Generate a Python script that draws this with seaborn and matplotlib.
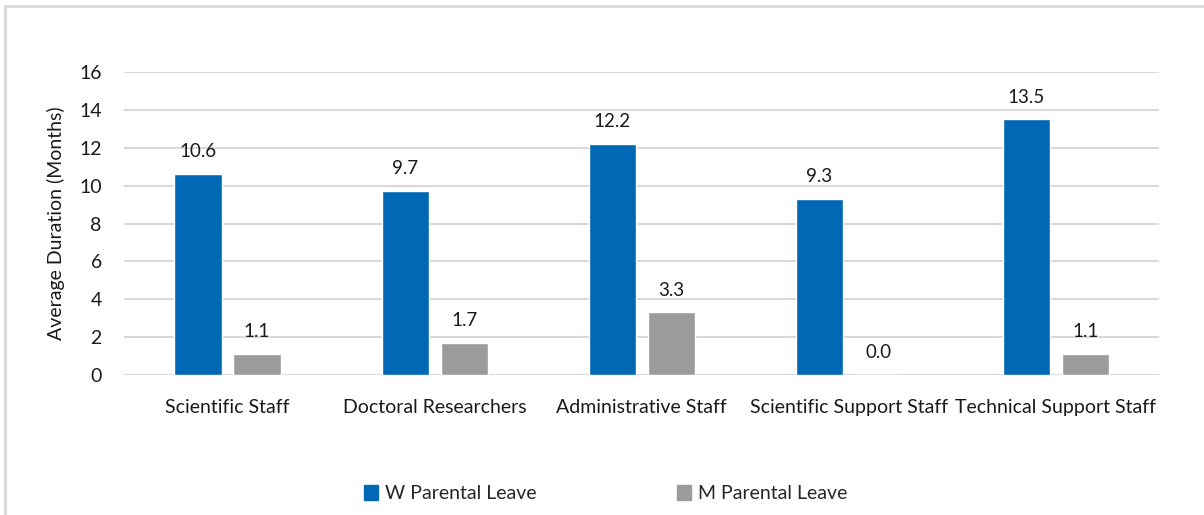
import numpy as np
import pandas as pd
import matplotlib
matplotlib.use("Agg")
import matplotlib.pyplot as plt
from matplotlib.lines import Line2D
import seaborn as sns

# Datos
categorias = ["Scientific Staff", "Doctoral Researchers", "Administrative Staff",
              "Scientific Support Staff", "Technical Support Staff"]
w_leave = [10.6, 9.7, 12.2, 9.3, 13.5]
m_leave = [1.1, 1.7, 3.3, 0.0, 1.1]
series = ["W Parental Leave", "M Parental Leave"]
y_ticks = [0, 2, 4, 6, 8, 10, 12, 14, 16]

df = pd.DataFrame({
    "Categoria": categorias * 2,
    "Serie": [series[0]] * len(categorias) + [series[1]] * len(categorias),
    "Valor": w_leave + m_leave,
})

sns.set_style("white")
plt.rcParams["font.family"] = ["Lato", "DejaVu Sans"]

fig = plt.figure(figsize=(12.04, 5.15), dpi=100)
ax = fig.add_axes([0.103, 0.272, 0.860, 0.588])

colores = {series[0]: "#0068B5", series[1]: "#9B9B9B"}
sns.barplot(data=df, x="Categoria", y="Valor", hue="Serie", palette=colores,
            width=0.57, gap=0.2, saturation=1, ax=ax, legend=False)

for cont in ax.containers:
    ax.bar_label(cont, fmt="%.1f", padding=10, fontsize=13.5, color="#1a1a1a")

ax.set_ylim(0, 16)
ax.set_yticks(y_ticks)
ax.yaxis.grid(True, color="#D9D9D9", linewidth=1.5)
ax.set_axisbelow(True)
for s in ax.spines.values():
    s.set_visible(False)
ax.tick_params(axis="both", length=0, labelsize=14, colors="#1a1a1a")
ax.tick_params(axis="y", pad=16)
ax.tick_params(axis="x", pad=17)
ax.set_xlabel("")
ax.set_ylabel("Average Duration (Months)", fontsize=14, color="#1a1a1a", labelpad=10)

# Leyenda inferior
handles = [plt.Rectangle((0, 0), 1, 1, color=colores[s]) for s in series]
fig.legend(handles, series, loc="center", bbox_to_anchor=(0.503, 0.041), ncol=2,
           frameon=False, fontsize=14, handlelength=0.75, handleheight=0.75,
           handletextpad=0.35, columnspacing=7.2)

# Borde del recuadro
fig.add_artist(Line2D([0.004, 1.0], [0.988, 0.988], color="#D9D9D9", lw=2,
                      transform=fig.transFigure))
fig.add_artist(Line2D([0.004, 0.004], [0.0, 0.988], color="#D9D9D9", lw=2,
                      transform=fig.transFigure))

fig.savefig("out.png", dpi=100)
